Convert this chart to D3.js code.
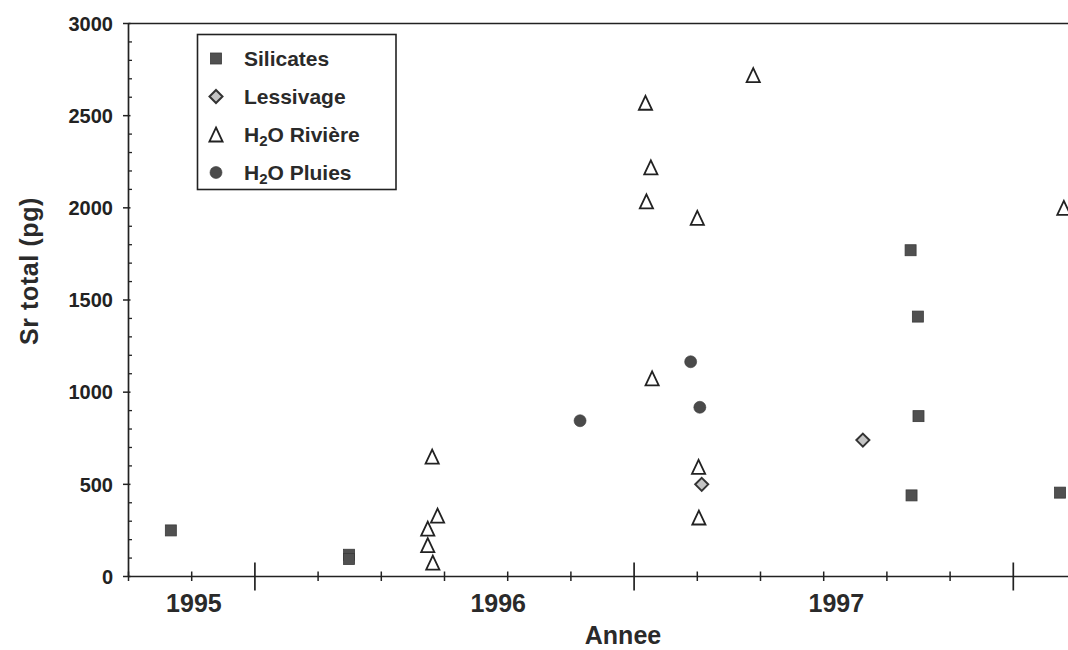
<!DOCTYPE html>
<html>
<head>
<meta charset="utf-8">
<script src="https://cdn.jsdelivr.net/npm/d3@7"></script>
<style>
  html, body { margin: 0; padding: 0; background: #fff; }
  svg { display: block; font-family: "Liberation Sans", Arial, Helvetica, sans-serif; }
</style>
</head>
<body>
<svg id="chart" width="1068" height="650"></svg>
<script>
// ---- Data (x = months from axis origin, y = Sr total in pg) ----
const silicates = [[1.34, 250], [6.98, 118], [6.98, 95], [24.75, 1770], [24.98, 1410], [25.0, 870], [24.78, 440], [29.48, 455]];
const lessivage = [[18.14, 500], [23.24, 740]];
const riviere = [[9.61, 650], [9.78, 330], [9.47, 260], [9.47, 170], [9.63, 75],
                 [16.57, 1075], [18.04, 595], [18.05, 320], [19.77, 2720], [16.36, 2570],
                 [16.53, 2220], [16.39, 2035], [18.0, 1945], [29.6, 2000]];
const pluies = [[14.29, 845], [17.79, 1165], [18.08, 918]];

const legendLabels = ["Silicates", "Lessivage", "H2O Rivière", "H2O Pluies"];
const yMajorTicks = [0, 500, 1000, 1500, 2000, 2500, 3000];
const yMinorTicks = d3.range(0, 3001, 100);
const xMinorTicks = d3.range(0, 31, 2);
const xMajorTicks = [4, 16, 28];
const yearLabels = ["1995", "1996", "1997"];
const yearLabelPos = [2.07, 11.7, 22.4];
const xTitle = "Annee";
const yTitle = "Sr total (pg)";

// ---- Layout ----
const svg = d3.select("#chart");
const ink = "#222";
const x = d3.scaleLinear().domain([0, 30]).range([128.5, 128.5 + 30 * 31.6]);
const y = d3.scaleLinear().domain([0, 3000]).range([576.5, 23.5]);
const x0 = x(0), yTop = y(3000), yBot = y(0);

// frame: y axis, top border, x axis
svg.append("line").attr("x1", x0).attr("x2", x0).attr("y1", yTop).attr("y2", yBot)
  .attr("stroke", ink).attr("stroke-width", 1.7);
svg.append("line").attr("x1", x0).attr("x2", x(30)).attr("y1", yTop).attr("y2", yTop)
  .attr("stroke", ink).attr("stroke-width", 1.6);
svg.append("line").attr("x1", x0).attr("x2", x(30)).attr("y1", yBot).attr("y2", yBot)
  .attr("stroke", ink).attr("stroke-width", 1.7);

// y ticks
svg.append("g").selectAll("line").data(yMinorTicks.filter(d => d % 500 !== 0)).join("line")
  .attr("x1", x0).attr("x2", x0 + 3.5).attr("y1", d => y(d)).attr("y2", d => y(d))
  .attr("stroke", ink).attr("stroke-width", 1.3);
svg.append("g").selectAll("line").data(yMajorTicks).join("line")
  .attr("x1", x0 - 5.5).attr("x2", x0 + 2).attr("y1", d => y(d)).attr("y2", d => y(d))
  .attr("stroke", ink).attr("stroke-width", 1.5);
svg.append("g").selectAll("text").data(yMajorTicks).join("text")
  .attr("x", 113).attr("y", d => y(d)).attr("dy", "0.36em")
  .attr("text-anchor", "end").attr("font-size", 20).attr("font-weight", "bold")
  .attr("fill", ink).text(d => d);

// x ticks
svg.append("g").selectAll("line").data(xMinorTicks.filter(d => !xMajorTicks.includes(d))).join("line")
  .attr("x1", d => x(d)).attr("x2", d => x(d)).attr("y1", yBot - 5).attr("y2", yBot + 4.5)
  .attr("stroke", ink).attr("stroke-width", 1.5);
svg.append("g").selectAll("line").data(xMajorTicks).join("line")
  .attr("x1", d => x(d)).attr("x2", d => x(d)).attr("y1", yBot - 14).attr("y2", yBot + 14)
  .attr("stroke", ink).attr("stroke-width", 1.7);
svg.append("g").selectAll("text").data(yearLabels).join("text")
  .attr("x", (d, i) => x(yearLabelPos[i])).attr("y", 612)
  .attr("text-anchor", "middle").attr("font-size", 25).attr("font-weight", "bold")
  .attr("fill", "#2a2a2a").text(d => d);

// axis titles
svg.append("text").attr("x", 623).attr("y", 644).attr("text-anchor", "middle")
  .attr("font-size", 25).attr("font-weight", "bold").attr("fill", "#2a2a2a").text(xTitle);
svg.append("text").attr("transform", "translate(38,271) rotate(-90)")
  .attr("text-anchor", "middle").attr("font-size", 25).attr("font-weight", "bold")
  .attr("letter-spacing", 0.6).attr("fill", "#2a2a2a").text(yTitle);

// ---- marker drawers ----
function drawSquare(sel) {
  sel.append("rect").attr("x", -5.5).attr("y", -5.5).attr("width", 11).attr("height", 11)
    .attr("fill", "#505050").attr("stroke", "#3a3a3a").attr("stroke-width", 0.8);
}
function drawDiamond(sel) {
  sel.append("path").attr("d", "M0,-6.5L6.5,0L0,6.5L-6.5,0Z")
    .attr("fill", "#c4c4c4").attr("stroke", "#333").attr("stroke-width", 2);
}
function drawTriangle(sel) {
  sel.append("path").attr("d", "M0,-7L6.6,7L-6.6,7Z")
    .attr("fill", "#fff").attr("stroke", ink).attr("stroke-width", 1.8).attr("stroke-linejoin", "miter");
}
function drawCircle(sel) {
  sel.append("circle").attr("r", 6).attr("fill", "#4a4a4a").attr("stroke", "#3a3a3a").attr("stroke-width", 0.6);
}

const series = [
  { data: silicates, draw: drawSquare },
  { data: lessivage, draw: drawDiamond },
  { data: riviere, draw: drawTriangle },
  { data: pluies, draw: drawCircle }
];

// points (drawing order: rivière, pluies, lessivage, silicates)
[2, 3, 1, 0].forEach(i => {
  const s = series[i];
  svg.append("g").selectAll("g").data(s.data).join("g")
    .attr("transform", d => `translate(${x(d[0])},${y(d[1])})`)
    .each(function () { s.draw(d3.select(this)); });
});

// ---- legend ----
const lg = svg.append("g");
lg.append("rect").attr("x", 197.5).attr("y", 34.5).attr("width", 198.5).attr("height", 155)
  .attr("fill", "#fff").attr("stroke", ink).attr("stroke-width", 1.6);
const rowY = i => 58.5 + i * 38;
legendLabels.forEach((lab, i) => {
  const g = lg.append("g").attr("transform", `translate(216,${rowY(i)})`);
  series[i].draw(g);
  const t = lg.append("text").attr("x", 244).attr("y", rowY(i)).attr("dy", "0.36em")
    .attr("font-size", 21).attr("font-weight", "bold").attr("fill", "#2a2a2a");
  if (lab.startsWith("H2O")) {
    t.append("tspan").text("H");
    t.append("tspan").attr("font-size", 15).attr("dy", 4).text("2");
    t.append("tspan").attr("dy", -4).text(lab.slice(2));
  } else {
    t.text(lab);
  }
});
</script>
</body>
</html>
